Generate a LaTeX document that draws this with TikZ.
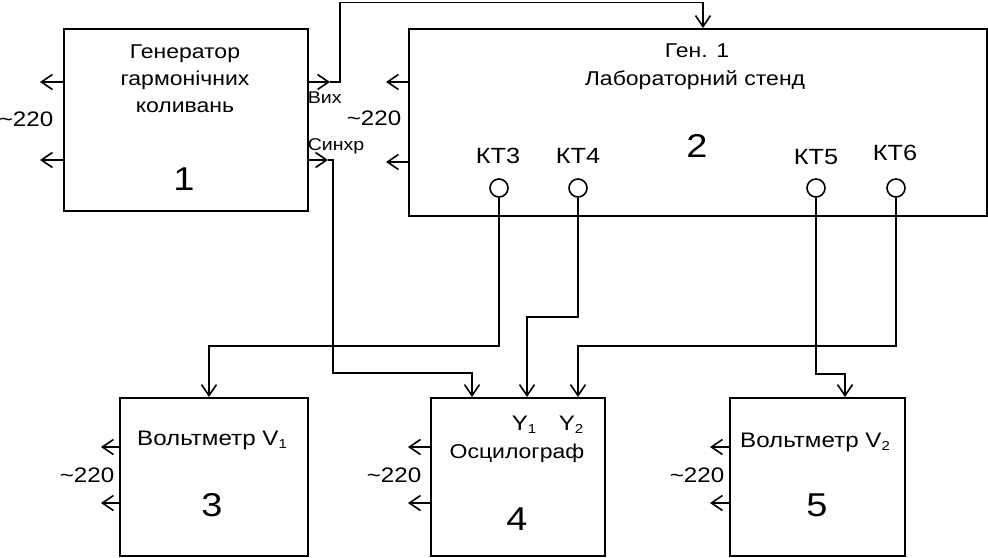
\documentclass[tikz,border=0pt]{standalone}
\usepackage{fontspec}
\setmainfont{Liberation Sans}[FakeStretch=1.15]
\usetikzlibrary{arrows.meta}
\newcommand\lowidx[1]{\raisebox{-0.35ex}{\fontsize{13}{13}\selectfont #1}}
\newcommand\tld{\char"7E\relax}
\begin{document}
\begin{tikzpicture}[x=1pt,y=-1pt,
  line width=1.6pt,
  box/.style={draw, rectangle, inner sep=0pt, anchor=north west},
  lbl/.style={inner sep=0pt, anchor=base, font=\fontsize{20}{24}\selectfont},
  lblb/.style={inner sep=0pt, anchor=base, font=\fontsize{21}{24}\selectfont},
  ktl/.style={inner sep=0pt, anchor=base, font=\fontsize{22}{24}\selectfont},
  small/.style={inner sep=0pt, anchor=base west, font=\fontsize{17}{20}\selectfont},
  num/.style={inner sep=0pt, anchor=base, font=\fontsize{33}{36}\selectfont},
  pin/.style={draw, circle, minimum size=18pt, inner sep=0pt},
  arr/.style={-{Straight Barb[length=11pt,width=15pt]}},
  ln/.style={line join=miter}
]
\useasboundingbox (0,0) rectangle (988,557);

% boxes
\node[box, minimum width=244pt, minimum height=182pt] (b1) at (63,28) {};
\node[box, minimum width=578pt, minimum height=187pt] (b2) at (408,28) {};
\node[box, minimum width=188pt, minimum height=158pt] (b3) at (119,397) {};
\node[box, minimum width=174pt, minimum height=158pt] (b4) at (430,397) {};
\node[box, minimum width=175pt, minimum height=158pt] (b5) at (729,397) {};

% box 1 text
\node[lbl] (t1a) at (185,58) {Генератор};
\node[lbl] (t1b) at (185,85) {гармонічних};
\node[lbl] (t1c) at (185,112) {коливань};
\node[num] (n1) at (184,190) {1};
\node[small] (vyx) at (307,103) {Вих};
\node[small] (synh) at (307,150) {Синхр};

% box 2 text
\node[lbl] (t2a) at (697,57) {Ген. 1};
\node[lbl] (t2b) at (695,85) {Лабораторний стенд};
\node[num] (n2) at (697,157) {2};
\node[ktl] (k3) at (498,163) {КТ3};
\node[ktl] (k4) at (578,163) {КТ4};
\node[ktl] (k5) at (816,164) {КТ5};
\node[ktl] (k6) at (895,160) {КТ6};
\node[pin] (p3) at (499,188) {};
\node[pin] (p4) at (578,188) {};
\node[pin] (p5) at (816,188) {};
\node[pin] (p6) at (896,188) {};

% box 3-5 text
\node[lblb] (t3) at (212,445) {Вольтметр V\lowidx{1}};
\node[num] (n3) at (212,516) {3};
\node[lblb] (y1) at (524,430) {Y\lowidx{1}};
\node[lblb] (y2) at (571,430) {Y\lowidx{2}};
\node[lbl] (t4) at (517,458) {Осцилограф};
\node[num] (n4) at (517,530) {4};
\node[lblb] (t5) at (815,447) {Вольтметр V\lowidx{2}};
\node[num] (n5) at (817,516) {5};

% ~220 labels
\node[lblb] (m1) at (26,126) {\tld220};
\node[lblb] (m2) at (374,125) {\tld220};
\node[lblb] (m3) at (87,482) {\tld220};
\node[lblb] (m4) at (394,482) {\tld220};
\node[lblb] (m5) at (697,482) {\tld220};

% mains arrows
\coordinate (a1u) at (40,82);  \coordinate (a1d) at (40,160);
\coordinate (a2u) at (386,82); \coordinate (a2d) at (386,162);
\coordinate (a3u) at (101,447); \coordinate (a3d) at (101,503);
\coordinate (a4u) at (408,447); \coordinate (a4d) at (408,503);
\coordinate (a5u) at (710,447); \coordinate (a5d) at (710,503);
\foreach \b/\c in {b1/a1u,b1/a1d,b2/a2u,b2/a2d,b3/a3u,b3/a3d,b4/a4u,b4/a4d,b5/a5u,b5/a5d}
  \draw[arr] (\b.west |- \c) -- (\c);

% output of generator
\coordinate (vx) at (330,82);
\coordinate (vxc) at (340,82);
\coordinate (top1) at (340,2.5);
\coordinate (top2) at (703,2.5);
\draw[arr] (b1.east |- vx) -- (vx);
\draw[arr,ln] (vx) -- (vxc) -- (top1) -- (top2) -- (top2 |- b2.north);

% sync
\coordinate (sx) at (328,160);
\coordinate (sxc) at (333,160);
\coordinate (s1) at (333,373);
\coordinate (s2) at (472,373);
\draw[arr] (b1.east |- sx) -- (sx);
\draw[arr,ln] (sx) -- (sxc) -- (s1) -- (s2) -- (s2 |- b4.north);

% KT3 -> V1
\coordinate (c3a) at (499,346);
\coordinate (c3b) at (209,346);
\draw[arr,ln] (p3.south) -- (c3a) -- (c3b) -- (c3b |- b3.north);

% KT4 -> Y1
\coordinate (c4a) at (578,317);
\coordinate (c4b) at (527,317);
\draw[arr,ln] (p4.south) -- (c4a) -- (c4b) -- (c4b |- b4.north);

% KT6 -> Y2
\coordinate (c6a) at (896,346);
\coordinate (c6b) at (578,346);
\draw[arr,ln] (p6.south) -- (c6a) -- (c6b) -- (c6b |- b4.north);

% KT5 -> V2
\coordinate (c5a) at (816,374);
\coordinate (c5b) at (845,374);
\draw[arr,ln] (p5.south) -- (c5a) -- (c5b) -- (c5b |- b5.north);
\end{tikzpicture}
\end{document}
